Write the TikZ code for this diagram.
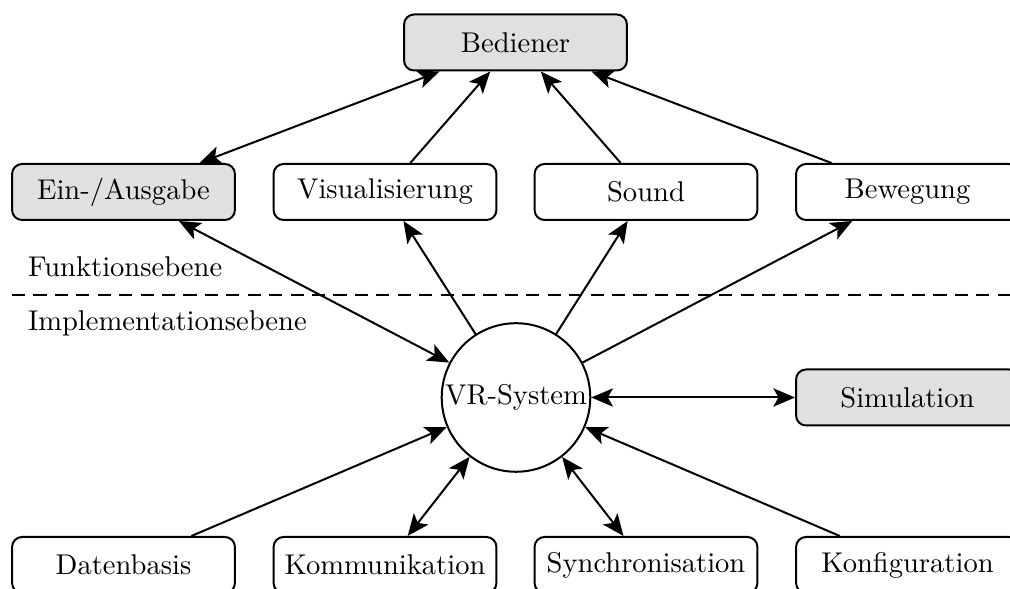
\documentclass[tikz,border=0pt]{standalone}
\usetikzlibrary{arrows.meta}
\definecolor{boxgray}{gray}{0.88}
\begin{document}
\begin{tikzpicture}[x=0.35pt, y=-0.35pt,
  line width=0.7pt,
  >={Stealth[length=7.6pt,width=6.4pt,inset=1.8pt]},
  block/.style={draw, rounded corners=3.5pt, minimum width=78pt, minimum height=19.6pt, inner sep=2pt},
  greyblock/.style={block, fill=boxgray},
  core/.style={draw, circle, minimum size=52pt, inner sep=0pt},
  layer/.style={anchor=base west, inner sep=0pt}
]
\useasboundingbox (0,0) rectangle (1010,589);

% top level
\node[greyblock] (bed) at (515.5,42.5) {Bediener};

% functional layer
\node[greyblock] (io)  at (123.5,192) {Ein-/Ausgabe};
\node[block]     (vis) at (385,192)   {Visualisierung};
\node[block]     (snd) at (646,192)   {Sound};
\node[block]     (bew) at (907.5,192) {Bewegung};

% layer separation
\coordinate (sepL) at (12,295);
\coordinate (sepR) at (1010,295);
\draw[dash pattern=on 4.6pt off 2.9pt] (sepL) -- (sepR);
\node[layer] (fkt) at (27,277) {Funktionsebene};
\node[layer] (impl) at (27,331) {Implementationsebene};

% implementation layer
\node[core] (vr) at (516,397.5) {VR-System};
\node[greyblock] (sim) at (907.5,397.5) {Simulation};

\node[block] (dat)  at (123.5,565) {Datenbasis};
\node[block] (kom)  at (385,565)   {Kommunikation};
\node[block] (sync) at (646,565)   {Synchronisation};
\node[block] (konf) at (907.5,565) {Konfiguration};

% connections to the operator
\draw[<->] (io) -- (bed);
\draw[->] (vis) -- (bed);
\draw[->] (snd) -- (bed);
\draw[->] (bew) -- (bed);

% connections of the VR system
\draw[<->] (vr) -- (io);
\draw[->] (vr) -- (vis);
\draw[->] (vr) -- (snd);
\draw[->] (vr) -- (bew);
\draw[<->] (vr) -- (sim);
\draw[->] (dat) -- (vr);
\draw[<->] (kom) -- (vr);
\draw[<->] (sync) -- (vr);
\draw[->] (konf) -- (vr);
\end{tikzpicture}
\end{document}
